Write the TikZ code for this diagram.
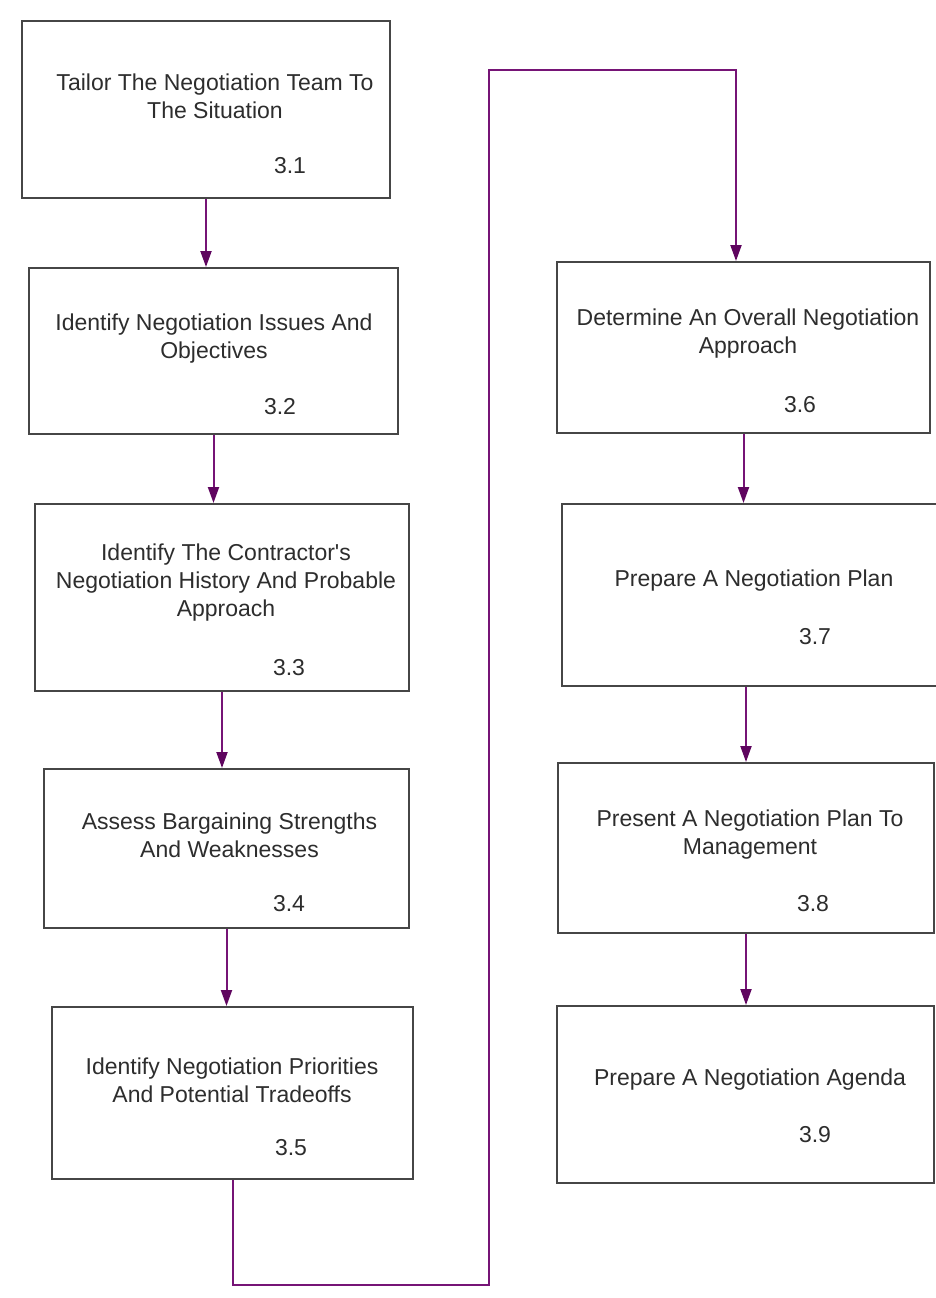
\documentclass[tikz,border=0pt]{standalone}
\usepackage{fontspec}
\newfontfamily\labelfont{Liberation Sans}
\usetikzlibrary{arrows.meta}
\definecolor{boxline}{RGB}{70,70,70}
\definecolor{boxtext}{RGB}{45,45,45}
\definecolor{flowline}{RGB}{118,20,118}
\definecolor{flowtip}{RGB}{95,5,95}
\begin{document}
\begin{tikzpicture}[x=1pt, y=-1pt,
    task/.style={rectangle, draw=boxline, line width=2pt, fill=white, inner sep=0pt},
    title/.style={text=boxtext, align=center, font=\labelfont\fontsize{23}{28}\selectfont, inner sep=0pt},
    num/.style={text=boxtext, font=\labelfont\fontsize{23}{28}\selectfont, inner sep=0pt},
    flow/.style={draw=flowline, line width=2pt, -{Triangle[length=16pt, width=11pt, color=flowtip]}}]
    \fill[white] (0,0) rectangle (936,1298);
    \clip (0,0) rectangle (936,1298);

    \node[task, minimum width=368pt, minimum height=177pt] (b1) at (206,109.5) {};
    \node[task, minimum width=369pt, minimum height=166pt] (b2) at (213.5,351) {};
    \node[task, minimum width=374pt, minimum height=187pt] (b3) at (222,597.5) {};
    \node[task, minimum width=365pt, minimum height=159pt] (b4) at (226.5,848.5) {};
    \node[task, minimum width=361pt, minimum height=172pt] (b5) at (232.5,1093) {};
    \node[task, minimum width=373pt, minimum height=171pt] (b6) at (743.5,347.5) {};
    \node[task, minimum width=383pt, minimum height=182pt] (b7) at (753.5,595) {};
    \node[task, minimum width=376pt, minimum height=170pt] (b8) at (746,848) {};
    \node[task, minimum width=377pt, minimum height=177pt] (b9) at (745.5,1094.5) {};

    \node[title] (t1) at (215,96.5) {Tailor The Negotiation Team To\\The Situation};
    \node[title] (t2) at (214,339) {Identify Negotiation Issues And\\Objectives};
    \node[title] (t3) at (226,583) {Identify The Contractor's\\Negotiation History And Probable\\Approach};
    \node[title] (t4) at (229.5,835) {Assess Bargaining Strengths\\And Weaknesses};
    \node[title] (t5) at (232,1080) {Identify Negotiation Priorities\\And Potential Tradeoffs};
    \node[title] (t6) at (748,334) {Determine An Overall Negotiation\\Approach};
    \node[title] (t7) at (754,581) {Prepare A Negotiation Plan};
    \node[title] (t8) at (750,835) {Present A Negotiation Plan To\\Management};
    \node[title] (t9) at (750,1080) {Prepare A Negotiation Agenda};

    \node[num] (n1) at (290,166) {3.1};
    \node[num] (n2) at (280,407) {3.2};
    \node[num] (n3) at (289,668) {3.3};
    \node[num] (n4) at (289,904) {3.4};
    \node[num] (n5) at (291,1148) {3.5};
    \node[num] (n6) at (800,405) {3.6};
    \node[num] (n7) at (815,637) {3.7};
    \node[num] (n8) at (813,904) {3.8};
    \node[num] (n9) at (815,1135) {3.9};

    \coordinate (turnA) at (489,1285);
    \coordinate (turnB) at (736,70);

    \draw[flow] (b1.south) -- (b1.south |- b2.north);
    \draw[flow] (b2.south) -- (b2.south |- b3.north);
    \draw[flow] (b3.south) -- (b3.south |- b4.north);
    \draw[flow] (b4.south) -- (b4.south |- b5.north);
    \draw[flow] (b5.south) |- (turnA) |- (turnB) -- (turnB |- b6.north);
    \draw[flow] (b6.south) -- (b6.south |- b7.north);
    \draw[flow] (b8.north |- b7.south) -- (b8.north);
    \draw[flow] (b8.south) -- (b8.south |- b9.north);
\end{tikzpicture}
\end{document}
